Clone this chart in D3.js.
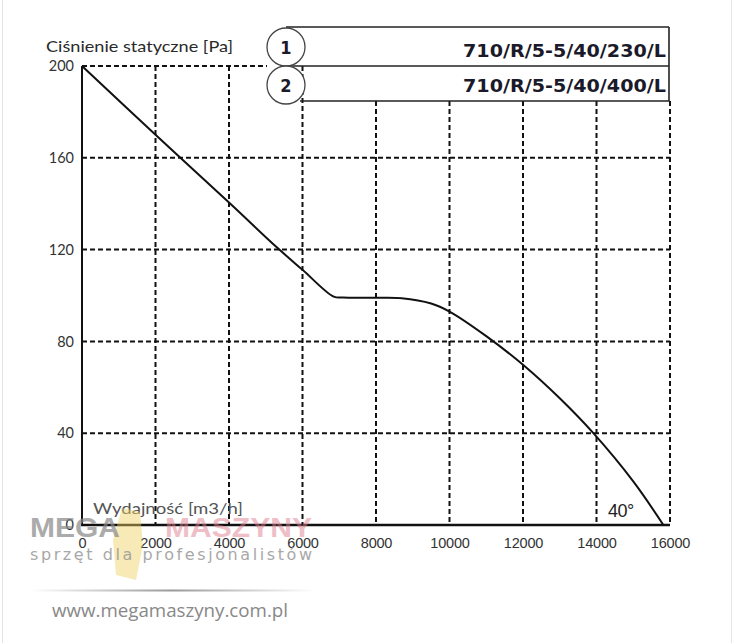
<!DOCTYPE html>
<html><head><meta charset="utf-8">
<script src="https://cdn.jsdelivr.net/npm/d3@7"></script>
<style>body{margin:0;background:#fff}svg{display:block}</style>
</head><body>
<svg id="c" width="734" height="643"></svg>
<script>
const xTicks = [0,2000,4000,6000,8000,10000,12000,14000,16000];
const yTicks = [0,40,80,120,160,200];
const flow =     [0,   2000, 4000,  5300, 6000,  6850, 7100, 8000, 8700, 9500, 10000, 11000, 12000, 13000, 13915, 15000, 15820];
const pressure = [200, 170,  140.5, 121,  111.2, 99.5, 99.1, 99,   98.8, 96.5, 93,    82.3,  69.8,  55.2,  40,    19,    0];
const models = ["710/R/5-5/40/230/L","710/R/5-5/40/400/L"];
const yTitle = "Ciśnienie statyczne [Pa]";
const xTitle = "Wydajność [m3/h]";
const angleLabel = "40°";

const svg = d3.select("#c");
const x = d3.scaleLinear().domain([0,16000]).range([82,670]);
const y = d3.scaleLinear().domain([0,200]).range([525,66]);

// faint frame
svg.append("line").attr("x1",2.5).attr("x2",2.5).attr("y1",0).attr("y2",643).attr("stroke","#e4e4e4");
svg.append("line").attr("x1",731.5).attr("x2",731.5).attr("y1",0).attr("y2",643).attr("stroke","#e4e4e4");

const boxTop = 27, boxMid = y(200), boxBot = 101, boxRight = 669, cx = 286, r = 19;

// grid
const g = svg.append("g").attr("stroke","#111").attr("stroke-width",2).attr("stroke-dasharray","5,3");
yTicks.filter(d=>d>0).forEach(d=>{
  const x2 = d===200 ? cx - r : x(16000);
  g.append("line").attr("x1",x(0)).attr("x2",x2).attr("y1",y(d)).attr("y2",y(d));
});
xTicks.filter(d=>d>0).forEach(d=>{
  const y1 = x(d) > cx + r ? boxBot : y(200);
  g.append("line").attr("x1",x(d)).attr("x2",x(d)).attr("y1",y1).attr("y2",y(0));
});

// axes lines
svg.append("line").attr("x1",x(0)).attr("x2",x(0)).attr("y1",y(200)).attr("y2",y(0)).attr("stroke","#111").attr("stroke-width",2);
svg.append("line").attr("x1",x(0)-1).attr("x2",x(16000)).attr("y1",y(0)).attr("y2",y(0)).attr("stroke","#111").attr("stroke-width",2.5);

// legend box
const lb = svg.append("g").attr("stroke","#222").attr("stroke-width",1.6).attr("fill","none");
lb.append("line").attr("x1",cx).attr("x2",boxRight).attr("y1",boxTop).attr("y2",boxTop);
lb.append("line").attr("x1",cx).attr("x2",boxRight).attr("y1",boxMid).attr("y2",boxMid);
lb.append("line").attr("x1",cx+14).attr("x2",boxRight).attr("y1",boxBot).attr("y2",boxBot);
lb.append("line").attr("x1",boxRight).attr("x2",boxRight).attr("y1",boxTop).attr("y2",boxBot);
[47,85].forEach((cy,i)=>{
  svg.append("circle").attr("cx",cx).attr("cy",cy).attr("r",r).attr("fill","#fff").attr("stroke","#444").attr("stroke-width",1.3);
  svg.append("text").attr("x",cx).attr("y",cy+6.5).attr("text-anchor","middle")
    .attr("font-family","DejaVu Sans Condensed, DejaVu Sans").attr("font-weight","bold").attr("font-size",18).attr("fill","#1a1a2a").text(i+1);
});
models.forEach((m,i)=>{
  svg.append("text").attr("x",666).attr("y",[57,92][i]).attr("text-anchor","end")
    .attr("font-family","DejaVu Sans Condensed, DejaVu Sans").attr("font-weight","bold").attr("font-size",17)
    .attr("textLength",203).attr("lengthAdjust","spacingAndGlyphs").attr("fill","#1a1a2a").text(m);
});

// curve
const pts = flow.map((f,i)=>[f,pressure[i]]);
svg.append("path").datum(pts)
  .attr("d", d3.line().x(d=>x(d[0])).y(d=>y(d[1])).curve(d3.curveCatmullRom.alpha(0.5)))
  .attr("fill","none").attr("stroke","#111").attr("stroke-width",2);

// tick labels
const xAxis = svg.append("g").attr("transform",`translate(0,${y(0)+10})`)
  .call(d3.axisBottom(x).tickValues(xTicks).tickSize(0).tickFormat(d3.format("d")));
xAxis.select(".domain").remove();
xAxis.selectAll("text").attr("font-family","Liberation Sans, Arial").attr("font-size",14.5).attr("fill","#333").attr("letter-spacing","-0.2");

const yAxis = svg.append("g").attr("transform",`translate(${x(0)-2},0)`)
  .call(d3.axisLeft(y).tickValues(yTicks).tickSize(0).tickFormat(d3.format("d")));
yAxis.select(".domain").remove();
yAxis.selectAll("text").attr("font-family","Lato, Open Sans").attr("font-size",14.5).attr("fill","#333").attr("x",-6);

// titles
svg.append("text").attr("x",46).attr("y",52).attr("font-family","Lato, Open Sans").attr("font-size",15)
  .attr("textLength",187).attr("lengthAdjust","spacingAndGlyphs").attr("fill","#2a2a2a").text(yTitle);
svg.append("text").attr("x",93).attr("y",514).attr("font-family","Lato, Open Sans").attr("font-size",15)
  .attr("textLength",150).attr("lengthAdjust","spacingAndGlyphs").attr("fill","#555").text(xTitle);
svg.append("text").attr("x",608).attr("y",517).attr("font-family","Liberation Sans, Arial").attr("font-size",18)
  .attr("fill","#222").attr("letter-spacing","-0.5").text(angleLabel);

// watermark
const wm = svg.append("g");
wm.append("polygon").attr("points","122,508 140,512 143,545 136,580 116,575 113,540")
  .attr("fill","#f0d060").attr("opacity",0.45);
wm.append("text").attr("x",30).attr("y",537).attr("font-family","Liberation Sans, Arial").attr("font-weight","bold")
  .attr("font-size",28).attr("fill","#888").attr("opacity",0.7).attr("textLength",90).attr("lengthAdjust","spacingAndGlyphs").text("MEGA");
wm.append("text").attr("x",165).attr("y",537).attr("font-family","Liberation Sans, Arial").attr("font-weight","bold")
  .attr("font-size",28).attr("fill","#e08090").attr("opacity",0.5).attr("textLength",147).attr("lengthAdjust","spacingAndGlyphs").text("MASZYNY");
wm.append("text").attr("x",30).attr("y",560).attr("font-family","DejaVu Sans, Arial")
  .attr("font-size",16).attr("fill","#999").attr("opacity",0.85).attr("textLength",282).attr("lengthAdjust","spacing").text("sprzęt dla profesjonalistów");
const grad = svg.append("defs").append("linearGradient").attr("id","lg");
grad.append("stop").attr("offset","0").attr("stop-color","#fff");
grad.append("stop").attr("offset","0.5").attr("stop-color","#999");
grad.append("stop").attr("offset","1").attr("stop-color","#fff");
wm.append("rect").attr("x",30).attr("y",589.5).attr("width",285).attr("height",2).attr("fill","url(#lg)");
wm.append("text").attr("x",52).attr("y",617).attr("font-family","Open Sans, Liberation Sans").attr("font-size",18.5)
  .attr("fill","#888").attr("textLength",236).attr("lengthAdjust","spacingAndGlyphs").text("www.megamaszyny.com.pl");
</script>
</body></html>
